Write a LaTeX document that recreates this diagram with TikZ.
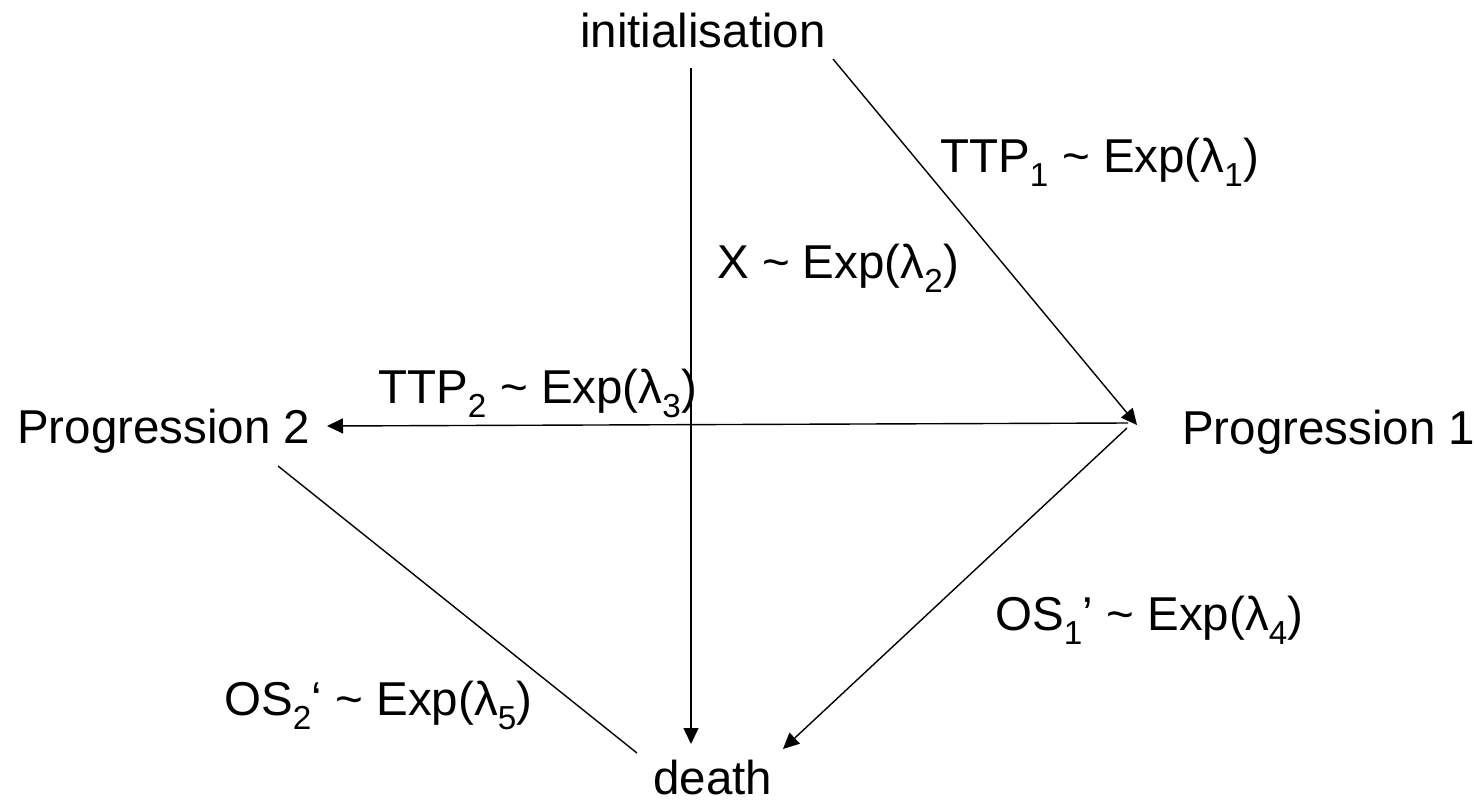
\documentclass[tikz,border=0pt]{standalone}
\usepackage{fontspec}
\setmainfont{Liberation Sans}
\usetikzlibrary{arrows.meta}
\begin{document}
\begin{tikzpicture}[x=1pt,y=-1pt,
  lbl/.style={anchor=base west,inner sep=0pt,font=\fontsize{47.5}{56}\selectfont},
  conn/.style={line width=1.4pt},
  arr/.style={conn,-{Triangle[length=16pt,width=15pt]}}]
\useasboundingbox (0,0) rectangle (1474,806);
% states
\node[lbl] (init) at (580,47) {initialisation};
\node[lbl] (p1) at (1182,444) {Progression 1};
\node[lbl] (p2) at (17,443) {Progression 2};
\node[lbl] (death) at (653,794) {death};
% connector ends
\coordinate (i0) at (691,68);
\coordinate (i1) at (833,59);
\coordinate (d0) at (691,744);
\coordinate (d1) at (783,749);
\coordinate (d2) at (637,753);
\coordinate (q1a) at (1137,425);
\coordinate (q1b) at (1128,423);
\coordinate (q1c) at (1127,428);
\coordinate (q2a) at (327,426);
\coordinate (q2b) at (278,466);
% connectors
\draw[arr] (i0) -- (d0);
\draw[arr] (i1) -- (q1a);
\draw[arr] (q1b) -- (q2a);
\draw[arr] (q1c) -- (d1);
\draw[conn] (q2b) -- (d2);
% labels
\node[lbl] (l1) at (940,172) {TTP\textsubscript{1} \textasciitilde{} Exp(λ\textsubscript{1})};
\node[lbl] (l2) at (717,278) {X \textasciitilde{} Exp(λ\textsubscript{2})};
\node[lbl] (l3) at (378,403) {TTP\textsubscript{2} \textasciitilde{} Exp(λ\textsubscript{3})};
\node[lbl] (l4) at (995,630) {OS\textsubscript{1}’ \textasciitilde{} Exp(λ\textsubscript{4})};
\node[lbl] (l5) at (224,715) {OS\textsubscript{2}‘ \textasciitilde{} Exp(λ\textsubscript{5})};
\end{tikzpicture}
\end{document}
